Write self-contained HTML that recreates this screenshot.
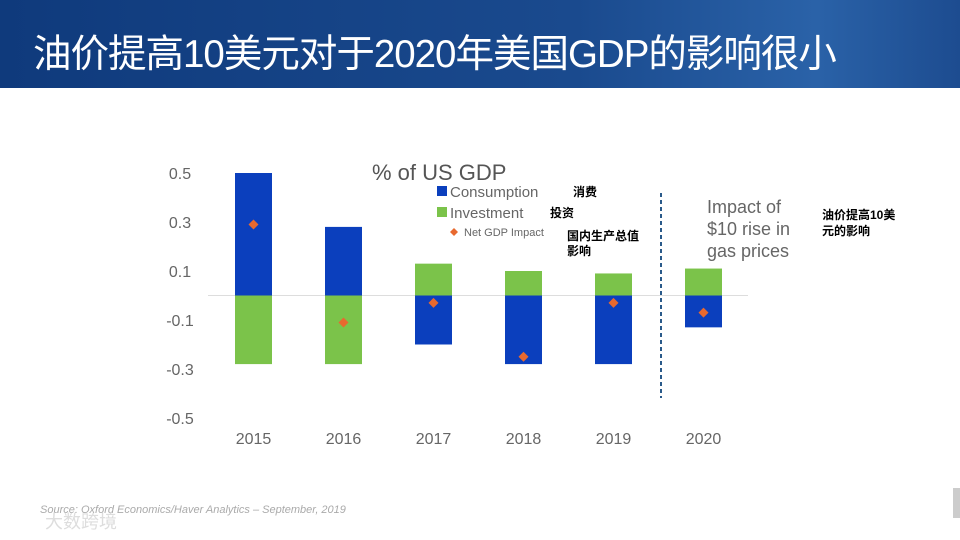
<!DOCTYPE html>
<html><head><meta charset="utf-8"><style>
body{margin:0;width:960px;height:540px;overflow:hidden;background:#fff;font-family:"Liberation Sans","Noto Sans CJK SC",sans-serif}
#hdr{position:absolute;left:0;top:0;width:960px;height:88px;background:linear-gradient(90deg,#0f3a7c 0%,#1a4a8e 60%,#2a62a8 85%,#1d4c90 100%)}
#title{position:absolute;left:33px;top:23px;color:#fff;font-size:38.5px;letter-spacing:-1px;white-space:nowrap}
svg{position:absolute;left:0;top:0}
</style></head><body>
<div id="hdr"><div id="title">油价提高10美元对于2020年美国GDP的影响很小</div></div>
<svg id="chart" width="960" height="540">
<text x="372" y="180" font-size="22" fill="#555">% of US GDP</text>
<rect x="437" y="186" width="10" height="10" fill="#0b3fbd"/>
<text x="450" y="197" font-size="15" fill="#666">Consumption</text>
<text x="573" y="196" font-size="12" font-weight="bold" fill="#000">消费</text>
<rect x="437" y="207" width="10" height="10" fill="#7bc34a"/>
<text x="450" y="218" font-size="15" fill="#666">Investment</text>
<text x="550" y="217" font-size="12" font-weight="bold" fill="#000">投资</text>
<path d="M454 228 l4 4 l-4 4 l-4 -4z" fill="#e8692f"/>
<text x="464" y="236" font-size="11" fill="#666">Net GDP Impact</text>
<text x="567" y="240" font-size="12" font-weight="bold" fill="#000">国内生产总值</text>
<text x="567" y="255" font-size="12" font-weight="bold" fill="#000">影响</text>
<line x1="661" y1="193" x2="661" y2="398" stroke="#2a5a8a" stroke-width="2" stroke-dasharray="4,3"/>
<text font-size="18" fill="#666"><tspan x="707" y="213">Impact of</tspan><tspan x="707" y="235">$10 rise in</tspan><tspan x="707" y="257">gas prices</tspan></text>
<text font-size="12" font-weight="bold" fill="#000"><tspan x="822" y="219">油价提高10美</tspan><tspan x="822" y="235">元的影响</tspan></text>
<text x="40" y="513" font-size="11" font-style="italic" fill="#aaa">Source: Oxford Economics/Haver Analytics – September, 2019</text>
<text x="45" y="528" font-size="18" fill="#ddd">大数跨境</text>
<rect x="953" y="488" width="7" height="30" fill="#ccc"/>
</svg>
<script>
const years=["2015","2016","2017","2018","2019","2020"];
const consumption=[0.5,0.28,-0.2,-0.28,-0.28,-0.13];
const investment=[-0.28,-0.28,0.13,0.1,0.09,0.11];
const netImpact=[0.29,-0.11,-0.03,-0.25,-0.03,-0.07];
const yTicks=[0.5,0.3,0.1,-0.1,-0.3,-0.5];
const NS="http://www.w3.org/2000/svg";
const svg=document.getElementById('chart');
const y=v=>295.5-v*245;
const xc=i=>253.5+i*90;
function mk(t,a){const e=document.createElementNS(NS,t);for(const k in a)e.setAttribute(k,a[k]);svg.appendChild(e);return e;}
const zl=mk('line',{x1:208,x2:748,y1:y(0),y2:y(0),stroke:'#ddd','stroke-width':1});


yTicks.forEach(v=>{const t=mk('text',{x:180,y:y(v)+6,'font-size':16,fill:'#666','text-anchor':'middle'});t.textContent=(v<0?'-':'')+Math.abs(v).toFixed(1);

});
function bar(i,v,c,n){const a=y(Math.max(v,0)),b=y(Math.min(v,0));const r=mk('rect',{x:xc(i)-18.5,y:a,width:37,height:b-a,fill:c});

}
years.forEach((yr,i)=>{
bar(i,consumption[i],'#0b3fbd','bar-consumption');
bar(i,investment[i],'#7bc34a','bar-investment');
const p=mk('path',{d:`M${xc(i)} ${y(netImpact[i])-5} l5 5 l-5 5 l-5 -5z`,fill:'#e8692f'});


const t=mk('text',{x:xc(i),y:444,'font-size':16,fill:'#666','text-anchor':'middle'});t.textContent=yr;


});
</script>
</body></html>
